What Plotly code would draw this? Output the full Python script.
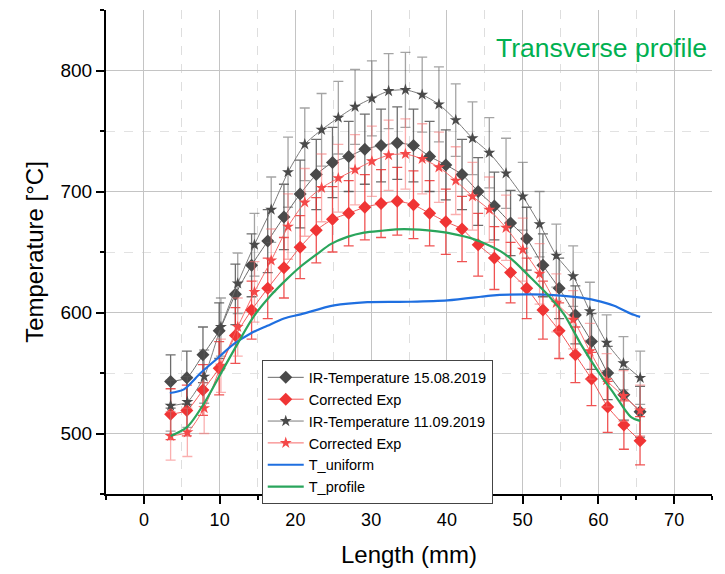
import plotly.graph_objects as go

# ---- data ----
x_0815 = [3.53, 5.67, 7.80, 9.94, 12.08, 14.22, 16.35, 18.49, 20.63, 22.76, 24.90, 27.04, 29.17, 31.31, 33.45,
          35.59, 37.72, 39.86, 42.00, 44.13, 46.27, 48.41, 50.54, 52.68, 54.82, 56.96, 59.09, 61.23, 63.37, 65.50]
ir_0815 = [543, 546, 565, 585, 615, 639, 659, 679, 698, 714, 724, 729, 735, 738, 740,
           738, 729, 722, 714, 700, 688, 674, 661, 639, 620, 598, 576, 550, 532, 518]
ir_0815_err = [22, 22, 23, 23, 25, 26, 26, 27, 28, 29, 29, 29, 29, 30, 30,
               30, 29, 29, 29, 28, 28, 27, 26, 26, 25, 24, 23, 22, 21, 21]
corr_0815 = [516, 519, 536, 554, 581, 602, 620, 637, 654, 668, 677, 682, 687, 690, 692,
             689, 682, 675, 669, 656, 645, 633, 620, 602, 585, 565, 545, 522, 507, 494]
corr_0815_err = [21, 21, 21, 22, 23, 24, 25, 25, 26, 27, 27, 27, 27, 28, 28,
                 28, 27, 27, 27, 26, 26, 25, 25, 24, 23, 23, 22, 21, 20, 20]

x_0911 = [3.53, 5.74, 7.96, 10.17, 12.39, 14.60, 16.81, 19.03, 21.24, 23.46, 25.67, 27.88, 30.10, 32.31, 34.53,
          36.74, 38.95, 41.17, 43.38, 45.60, 47.81, 50.02, 52.24, 54.45, 56.67, 58.88, 61.09, 63.31, 65.52]
ir_0911 = [523, 526, 547, 588, 624, 656, 685, 716, 739, 751, 761, 770, 777, 783, 784,
           780, 772, 759, 744, 732, 715, 696, 673, 647, 630, 601, 575, 558, 546]
ir_0911_err = [21, 21, 22, 24, 25, 26, 27, 29, 30, 30, 30, 31, 31, 31, 31,
               31, 31, 30, 30, 29, 29, 28, 27, 26, 25, 24, 23, 22, 22]
corr_0911 = [498, 501, 521, 556, 588, 617, 643, 671, 691, 703, 711, 718, 725, 730, 731,
             727, 720, 709, 696, 685, 670, 652, 632, 608, 594, 568, 544, 531, 519]
corr_0911_err = [20, 20, 21, 22, 24, 25, 26, 27, 28, 28, 28, 29, 29, 29, 29,
                 29, 29, 28, 28, 27, 27, 26, 25, 24, 24, 23, 22, 21, 21]

x_uniform = [3.43, 5.28, 7.49, 9.69, 11.89, 14.09, 16.30, 18.49, 20.70, 25.10, 29.51, 35.23, 40.07,
             44.47, 45.79, 51.08, 55.04, 57.68, 60.32, 62.08, 64.28, 65.51]
t_uniform = [533.5, 536.5, 550, 562, 574, 582.7, 589, 595, 598.5, 605.9, 608.6, 608.9, 610,
             613, 614, 614.9, 614, 612.3, 609, 605.5, 599, 596.4]

x_profile = [3.53, 5.73, 7.92, 10.13, 12.34, 14.53, 16.74, 18.94, 20.70, 22.90, 24.66, 26.87, 29.06, 31.26,
             34.34, 38.75, 41.39, 43.15, 44.47, 47.11, 48.87, 51.08, 53.28, 55.47, 57.68, 59.89, 62.08, 64.28, 65.51]
t_profile = [497.9, 505.5, 524.6, 549.3, 573.9, 597, 614, 628, 638, 648.5, 656.5, 662.5, 666, 667.5,
             668.9, 667, 664.2, 661.5, 658.5, 650.5, 642.3, 628.7, 614.9, 598.5, 573.9, 552, 532.8, 513.7, 510.4]

x_ticks = [0, 10, 20, 30, 40, 50, 60, 70]
y_ticks = [500, 600, 700, 800]

FONT = "Liberation Sans, Arial, sans-serif"
GRAY = "#4a4a4a"
RED = "#f03434"

fig = go.Figure()

fig.add_trace(go.Scatter(
    x=x_0815, y=ir_0815, name="IR-Temperature 15.08.2019", mode="lines+markers",
    line=dict(color="rgba(90,90,90,0.9)", width=1, shape="spline", smoothing=0.6),
    marker=dict(symbol="diamond", size=10, color=GRAY),
    error_y=dict(type="data", array=ir_0815_err, color="rgba(60,60,60,0.75)", thickness=1.3, width=5)))

fig.add_trace(go.Scatter(
    x=x_0815, y=corr_0815, name="Corrected Exp", mode="lines+markers",
    line=dict(color="rgba(240,70,70,0.9)", width=1, shape="spline", smoothing=0.6),
    marker=dict(symbol="diamond", size=10, color=RED),
    error_y=dict(type="data", array=corr_0815_err, color="rgba(235,40,40,0.8)", thickness=1.3, width=5)))

fig.add_trace(go.Scatter(
    x=x_0911, y=ir_0911, name="IR-Temperature 11.09.2019", mode="lines+markers",
    line=dict(color="rgba(110,110,110,0.9)", width=1, shape="spline", smoothing=0.6),
    marker=dict(symbol="star", size=9, color=GRAY),
    error_y=dict(type="data", array=ir_0911_err, color="rgba(90,90,90,0.55)", thickness=1.3, width=5)))

fig.add_trace(go.Scatter(
    x=x_0911, y=corr_0911, name="Corrected Exp", mode="lines+markers",
    line=dict(color="rgba(245,90,90,0.9)", width=1, shape="spline", smoothing=0.6),
    marker=dict(symbol="star", size=9, color="#f44848"),
    error_y=dict(type="data", array=corr_0911_err, color="rgba(245,110,110,0.55)", thickness=1.3, width=5)))

fig.add_trace(go.Scatter(
    x=x_uniform, y=t_uniform, name="T_uniform", mode="lines",
    line=dict(color="#1f6fe0", width=2.2, shape="spline", smoothing=0.8)))

fig.add_trace(go.Scatter(
    x=x_profile, y=t_profile, name="T_profile", mode="lines",
    line=dict(color="#2aa55c", width=2.2, shape="spline", smoothing=0.8)))

fig.add_annotation(
    text="Transverse profile", xref="paper", yref="paper", x=0.995, y=0.922,
    xanchor="right", yanchor="middle", showarrow=False,
    font=dict(family=FONT, size=26.5, color="#00b050"))

fig.update_layout(
    width=725, height=574,
    margin=dict(l=106, r=13, t=10, b=76),
    paper_bgcolor="white", plot_bgcolor="white",
    font=dict(family=FONT, color="black"),
    showlegend=True,
    legend=dict(x=0.257, y=0.276, xanchor="left", yanchor="top",
                bgcolor="white", bordercolor="#444", borderwidth=1,
                font=dict(family=FONT, size=14.5, color="black"),
                tracegroupgap=0, itemwidth=36),
    xaxis=dict(
        range=[-5, 75], tickvals=x_ticks, ticktext=[str(v) for v in x_ticks],
        title=dict(text="Length (mm)", font=dict(family=FONT, size=24), standoff=18),
        tickfont=dict(family=FONT, size=18),
        showline=True, linecolor="black", linewidth=2, mirror=False,
        ticks="outside", ticklen=8, tickwidth=2, tickcolor="black",
        showgrid=True, gridcolor="#c4c4c4", gridwidth=1, zeroline=False,
        minor=dict(dtick=5, tick0=0, ticks="outside", ticklen=4, tickwidth=1.5, tickcolor="black",
                   showgrid=True, gridcolor="#dedede", griddash="dash", gridwidth=1)),
    yaxis=dict(
        range=[450, 850], tickvals=y_ticks, ticktext=[str(v) for v in y_ticks],
        title=dict(text="Temperature [°C]", font=dict(family=FONT, size=24), standoff=10),
        tickfont=dict(family=FONT, size=19),
        showline=True, linecolor="black", linewidth=2, mirror=False,
        ticks="outside", ticklen=8, tickwidth=2, tickcolor="black",
        showgrid=True, gridcolor="#c4c4c4", gridwidth=1, zeroline=False,
        minor=dict(dtick=50, tick0=500, ticks="outside", ticklen=4, tickwidth=1.5, tickcolor="black",
                   showgrid=True, gridcolor="#e2e2e2", griddash="dash", gridwidth=1)),
)

fig.write_html("out.html")
